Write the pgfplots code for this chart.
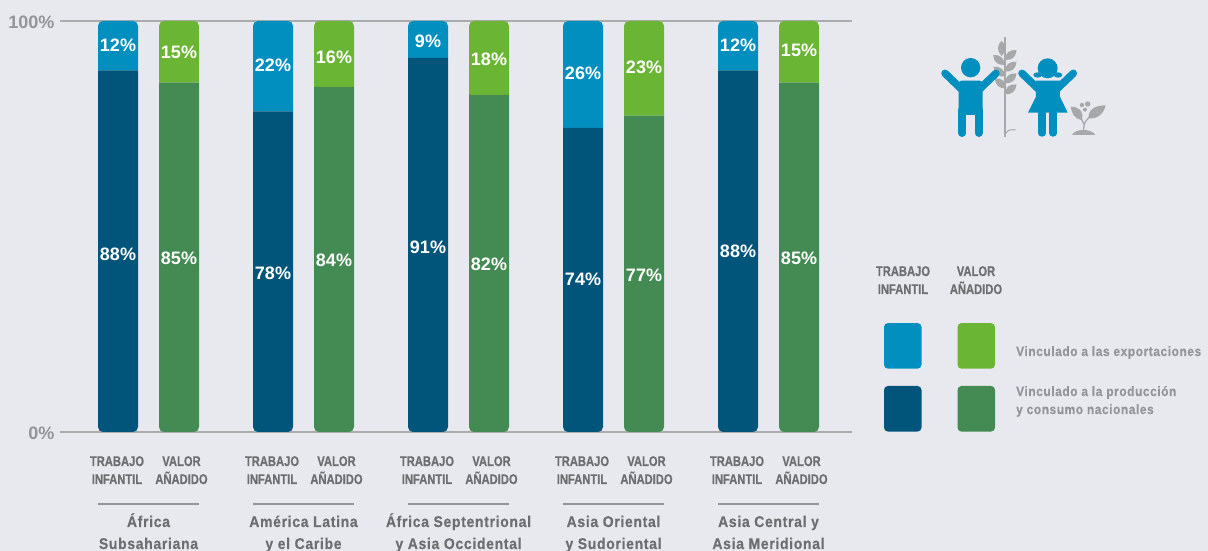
\documentclass[border=0pt]{standalone}
\usepackage{pgfplots}
\usepackage{pgfplotstable}
\usepackage{fontspec}
\pgfplotsset{compat=1.18}
\setmainfont{Liberation Sans}
\newfontfamily\spaced[LetterSpace=5,BoldFeatures={FakeBold=0.5}]{Liberation Sans}
\newfontfamily\caps[BoldFeatures={FakeBold=0.6}]{Liberation Sans}
\definecolor{bgc}{HTML}{E8E9EF}
\definecolor{lblue}{HTML}{008FBF}
\definecolor{dblue}{HTML}{02557A}
\definecolor{lgreen}{HTML}{6AB533}
\definecolor{dgreen}{HTML}{438B52}
\definecolor{txt}{HTML}{6D6E70}
\definecolor{txtl}{HTML}{939598}
\definecolor{rule}{HTML}{ABABAE}
\definecolor{icong}{HTML}{A7A8A9}
\pgfplotstableread{
x   nat exp natv expv
118 88  12  0    0
179 0   0   85   15
273 78  22  0    0
334 0   0   84   16
428 91  9   0    0
489 0   0   82   18
583 74  26  0    0
644 0   0   77   23
738 88  12  0    0
799 0   0   85   15
}\datatable
\pgfplotsset{base/.style={
  at={(0,0)},anchor=south west,
  width=1208pt,height=551pt,scale only axis,
  xmin=0,xmax=1208,
  ymin=-28.954,ymax=105.109,
  axis line style={draw=none},
  major tick length=0pt,
  xtick=\empty,
  clip=false}}
% capitals: condensed bold, baseline at a pixel row of the reference
\newcommand{\bl}[3]{\node[text=txt,anchor=base,inner sep=0pt] at (axis cs:#1,{(432-#2)/4.11}) {\scalebox{0.8}[1]{\caps\bfseries\fontsize{14}{14}\selectfont #3}};}
% group names
\newcommand{\gl}[3]{\node[text=txt,anchor=base,inner sep=0pt] at (axis cs:#1,{(432-#2)/4.11}) {\scalebox{0.9}[1]{\spaced\bfseries\fontsize{15.5}{15.5}\selectfont #3}};}
% legend text
\newcommand{\blw}[3]{\node[text=txtl,anchor=base west,inner sep=0pt] at (axis cs:#1,{(432-#2)/4.11}) {\scalebox{0.88}[1]{\spaced\bfseries\fontsize{13.5}{13.5}\selectfont #3}};}
\newcommand{\smalllab}[2]{\bl{#1}{466}{TRABAJO}\bl{#1}{484}{INFANTIL}\bl{#2}{466}{VALOR}\bl{#2}{484}{AÑADIDO}}
\newcommand{\grp}[3]{%
 \addplot[draw=txtl,line width=1.5pt,forget plot] coordinates {(#1-50.5,-17.5)(#1+50.5,-17.5)};
 \gl{#1}{527}{#2}\gl{#1}{549}{#3}}
\newcommand{\barlab}[3]{\node[font=\bfseries\fontsize{18}{18}\selectfont,text=white,anchor=center] at (axis cs:#1,{(432-#2)/4.11}) {#3};}
\begin{document}
\begin{tikzpicture}[x=1pt,y=1pt]
\useasboundingbox (0,0) rectangle (1208,551);
\fill[bgc] (0,0) rectangle (1208,551);
\begin{axis}[base,
  ytick={0,100},yticklabels={0\%,100\%},
  yticklabel style={anchor=east,xshift=58pt,yshift=-1pt,text=txtl,font=\bfseries\fontsize{18}{18}\selectfont}]
\addplot[rule,line width=1.3pt,forget plot] coordinates {(60,0)(852,0)};
\addplot[rule,line width=1.3pt,forget plot] coordinates {(60,100)(852,100)};
\smalllab{117}{181.5}\smalllab{272}{336.5}\smalllab{427}{491.5}\smalllab{582}{646.5}\smalllab{737}{801.5}
\grp{148.5}{África}{Subsahariana}
\grp{303.5}{América Latina}{y el Caribe}
\grp{458.5}{África Septentrional}{y Asia Occidental}
\grp{613.5}{Asia Oriental}{y Sudoriental}
\grp{768.5}{Asia Central y}{Asia Meridional}
% legend
\bl{903}{276}{TRABAJO}\bl{903}{294}{INFANTIL}
\bl{976}{276}{VALOR}\bl{976}{294}{AÑADIDO}
\fill[lblue,rounded corners=4pt] (axis cs:884,26.5) rectangle (axis cs:921.5,15.4);
\fill[lgreen,rounded corners=4pt] (axis cs:957.5,26.5) rectangle (axis cs:995,15.4);
\fill[dblue,rounded corners=4pt] (axis cs:884,11.2) rectangle (axis cs:921.5,0.1);
\fill[dgreen,rounded corners=4pt] (axis cs:957.5,11.2) rectangle (axis cs:995,0.1);
\blw{1016}{356}{Vinculado a las exportaciones}
\blw{1016}{396}{Vinculado a la producción}
\blw{1016}{414}{y consumo nacionales}
\end{axis}
\begin{scope}
\clip[rounded corners=5pt]
 (98,119) rectangle (138,530) (159,119) rectangle (199,530)
 (253,119) rectangle (293,530) (314,119) rectangle (354,530)
 (408,119) rectangle (448,530) (469,119) rectangle (509,530)
 (563,119) rectangle (603,530) (624,119) rectangle (664,530)
 (718,119) rectangle (758,530) (779,119) rectangle (819,530);
\begin{axis}[base,ytick=\empty,ybar stacked,bar width=40]
\addplot[fill=dblue,draw=none] table[x=x,y=nat] {\datatable};
\addplot[fill=lblue,draw=none] table[x=x,y=exp] {\datatable};
\addplot[fill=dgreen,draw=none] table[x=x,y=natv] {\datatable};
\addplot[fill=lgreen,draw=none] table[x=x,y=expv] {\datatable};
\end{axis}
\end{scope}
\begin{axis}[base,ytick=\empty]
\barlab{118}{254}{88\%}\barlab{118}{45}{12\%}
\barlab{179}{258}{85\%}\barlab{179}{52}{15\%}
\barlab{273}{273}{78\%}\barlab{273}{65}{22\%}
\barlab{334}{260}{84\%}\barlab{334}{57}{16\%}
\barlab{428}{247}{91\%}\barlab{428}{41}{9\%}
\barlab{489}{264}{82\%}\barlab{489}{59}{18\%}
\barlab{583}{279}{74\%}\barlab{583}{73}{26\%}
\barlab{644}{275}{77\%}\barlab{644}{67}{23\%}
\barlab{738}{251}{88\%}\barlab{738}{45}{12\%}
\barlab{799}{258}{85\%}\barlab{799}{50}{15\%}
\end{axis}
% icon, in 3x crop coordinates of the region starting at (900,20)
\begin{scope}[shift={(900,531)},x=0.3333pt,y=-0.3333pt]
 % wheat
 \draw[icong,line width=1.6pt] (315,50)--(315,352);
 \draw[icong,line width=1pt] (317,340) .. controls (325,328) and (335,328) .. (347,330);
 \foreach \px/\py/\ang in {305/85/90,297/120/-40,298/155/-40,302/190/-40,332/105/40,332/140/40,332/175/40,332/208/40}{
   \fill[icong,shift={(\px,\py)},rotate=\ang] (-23,0) .. controls (-8,-15) and (8,-15) .. (23,0) .. controls (8,15) and (-8,15) .. (-23,0) -- cycle;
 }
 % seedling
 \fill[icong] (516,345) .. controls (525,325) and (575,325) .. (586,345) -- cycle;
 \draw[icong,line width=1.3pt] (551,330) .. controls (551,310) and (555,300) .. (578,285);
 \draw[icong,line width=1.3pt] (551,312) .. controls (549,302) and (545,296) .. (535,290);
 \fill[icong] (512,260) .. controls (530,258) and (555,272) .. (545,300) .. controls (525,298) and (515,280) .. (512,260) -- cycle;
 \fill[icong] (617,256) .. controls (595,256) and (565,262) .. (565,295) .. controls (590,298) and (610,285) .. (617,256) -- cycle;
 \fill[icong] (546,255) circle (6.5);
 \fill[icong] (563,252) circle (8);
 \fill[icong] (555,269) circle (6);
 % boy
 \fill[lblue] (212,143) circle (29);
 \draw[lblue,line width=7.5pt,line cap=round,line join=round] (135,160)--(185,208);
 \draw[lblue,line width=7.5pt,line cap=round,line join=round] (288,160)--(238,208);
 \fill[lblue,rounded corners=3pt] (176,182) rectangle (248,285);
 \draw[lblue,line width=8pt,line cap=round] (187,270)--(187,339);
 \draw[lblue,line width=8pt,line cap=round] (236,270)--(236,339);
 % girl
 \fill[lblue] (443,145) circle (30);
 \fill[lblue] (413,165) ellipse[x radius=13,y radius=8];
 \fill[lblue] (474,165) ellipse[x radius=13,y radius=8];
 \draw[lblue,line width=7.5pt,line cap=round] (366,160)--(416,208);
 \draw[lblue,line width=7.5pt,line cap=round] (520,160)--(470,208);
 \fill[lblue] (408,182) -- (480,182) -- (480,230) -- (503,278) -- (384,278) -- (408,230) -- cycle;
 \draw[lblue,line width=7.5pt,line cap=round] (426,270)--(426,339);
 \draw[lblue,line width=7.5pt,line cap=round] (459,270)--(459,339);
\end{scope}
\end{tikzpicture}
\end{document}
